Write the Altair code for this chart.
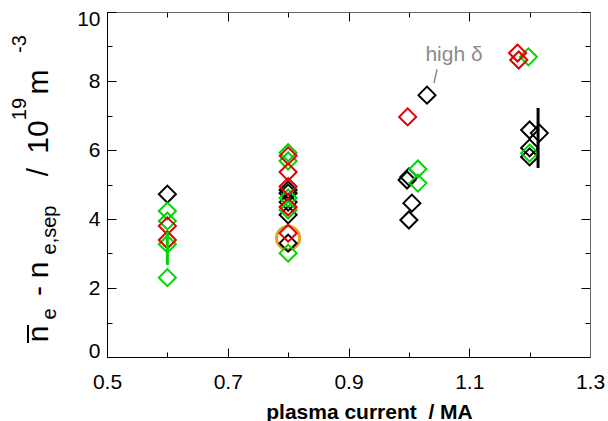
import altair as alt
import pandas as pd

FONT = "Liberation Sans"

# ---------------- data ----------------
black_x = [0.6, 0.8, 0.8, 0.8, 0.8, 0.8, 1.0, 0.997, 1.005, 1.0, 1.03, 1.2, 1.216, 1.2, 1.2]
black_y = [4.72, 4.84, 4.75, 4.49, 4.12, 3.30, 5.22, 5.13, 4.46, 3.97, 7.59, 6.58, 6.49, 6.06, 5.80]

green_x = [0.6, 0.6, 0.6, 0.6, 0.8, 0.8, 0.8, 0.8, 0.8, 1.015, 1.015, 1.198, 1.2]
green_y = [4.23, 3.94, 3.27, 2.30, 5.92, 5.68, 4.61, 4.26, 3.01, 5.45, 5.04, 8.70, 5.91]

red_x = [0.6, 0.6, 0.8, 0.8, 0.8, 0.8, 0.8, 0.998, 1.18, 1.182]
red_y = [3.80, 3.39, 5.83, 5.36, 4.94, 4.35, 3.59, 6.96, 8.81, 8.61]

orange_x = [0.8]
orange_y = [3.45]

err_x = [0.6, 1.214]
err_lo = [2.67, 5.48]
err_hi = [3.62, 7.22]
err_group = ["green", "black"]

high_delta_index = 10  # the black point labelled "high δ"
annot_label = "high δ"

x_ticks = [0.5, 0.6, 0.7, 0.8, 0.9, 1.0, 1.1, 1.2, 1.3]
x_labels = [0.5, 0.7, 0.9, 1.1, 1.3]
y_ticks = [0, 1, 2, 3, 4, 5, 6, 7, 8, 9, 10]
y_labels = [0, 2, 4, 6, 8, 10]

groups = ["black", "green", "red"]
colors = ["#000000", "#00d400", "#e00000"]

# ---------------- tables ----------------
pts = pd.concat([
    pd.DataFrame({"x": black_x, "y": black_y, "g": "black"}),
    pd.DataFrame({"x": green_x, "y": green_y, "g": "green"}),
    pd.DataFrame({"x": red_x, "y": red_y, "g": "red"}),
], ignore_index=True)
orange = pd.DataFrame({"x": orange_x, "y": orange_y})
errs = pd.DataFrame({"x": err_x, "lo": err_lo, "hi": err_hi, "g": err_group})
annot = pd.DataFrame({"x": [black_x[high_delta_index]], "y": [black_y[high_delta_index]],
                      "label": [annot_label]})

W, H = 483, 345
xs = alt.Scale(domain=[0.5, 1.3], nice=False, zero=False)
ys = alt.Scale(domain=[0, 10], nice=False, zero=False)
cs = alt.Scale(domain=groups, range=colors)

x_major = {"condition": {"test": "abs(round(datum.value*10)) % 2 == 1", "value": 9}, "value": 5}
y_major = {"condition": {"test": "round(datum.value) % 2 == 0", "value": 9}, "value": 5}

# label axes (left / bottom)
x_lab_axis = alt.Axis(orient="bottom", values=x_labels, format=".1f", ticks=False, grid=False,
                      domainColor="#000000", domainWidth=1, labelFont=FONT, labelFontSize=21,
                      labelColor="#000000", labelPadding=14, labelFlush=False,
                      title="plasma current\u00a0 / MA", titleFont=FONT, titleFontSize=21,
                      titleFontWeight="bold", titleColor="#000000", titleX=262, titleY=61,
                      titleAlign="center", titleBaseline="alphabetic", titleAnchor="start")
y_lab_axis = alt.Axis(orient="left", values=y_labels, format="d", ticks=False, grid=False,
                      domainColor="#000000", domainWidth=1, labelFont=FONT, labelFontSize=21,
                      labelColor="#000000", labelPadding=7, labelFlush=True, labelFlushOffset=4,
                      title=None)

# inward ticks at bottom / left (axes flipped onto the opposite side)
x_tick_bottom = alt.Axis(orient="top", offset=-H, values=x_ticks, labels=False, domain=False,
                         grid=False, tickSize=x_major, tickColor="#000000", tickWidth=1, title=None)
y_tick_left = alt.Axis(orient="right", offset=-W, values=y_ticks, labels=False, domain=False,
                       grid=False, tickSize=y_major, tickColor="#000000", tickWidth=1, title=None)
# inward ticks at top / right
x_tick_top = alt.Axis(orient="bottom", offset=-H, values=x_ticks, labels=False, domain=True,
                      domainColor="#666666", grid=False, tickSize=x_major, tickColor="#000000",
                      tickWidth=1, title=None)
y_tick_right = alt.Axis(orient="left", offset=-W, values=y_ticks, labels=False, domain=True,
                        domainColor="#666666", grid=False, tickSize=y_major, tickColor="#000000",
                        tickWidth=1, title=None)

circle = alt.Chart(orange).mark_point(shape="circle", filled=False, size=540, strokeWidth=3,
                                      color="#e3a225", opacity=1).encode(
    x=alt.X("x:Q", scale=xs, axis=x_tick_top),
    y=alt.Y("y:Q", scale=ys, axis=y_tick_right),
)

points = alt.Chart(pts).mark_point(shape="diamond", filled=False, size=290, strokeWidth=2,
                                   opacity=1).encode(
    x=alt.X("x:Q", scale=xs, axis=x_lab_axis),
    y=alt.Y("y:Q", scale=ys, axis=y_lab_axis),
    color=alt.Color("g:N", scale=cs, legend=None),
)

bars = alt.Chart(errs).mark_rule(strokeWidth=3).encode(
    x=alt.X("x:Q", scale=xs, axis=x_tick_bottom),
    y=alt.Y("lo:Q", scale=ys, axis=y_tick_left),
    y2="hi:Q",
    color=alt.Color("g:N", scale=cs, legend=None),
)

leader = alt.Chart(annot).transform_calculate(
    x1="datum.x + 0.0116", y1="datum.y + 0.35", x2="datum.x + 0.0166", y2="datum.y + 0.75"
).mark_rule(color="#8c8c8c", strokeWidth=1.5).encode(
    x=alt.X("x1:Q", scale=xs, axis=None),
    y=alt.Y("y1:Q", scale=ys, axis=None),
    x2="x2:Q",
    y2="y2:Q",
)

label = alt.Chart(annot).mark_text(font=FONT, fontSize=21, color="#8c8c8c", dx=27, dy=-40,
                                   align="center", baseline="middle").encode(
    x=alt.X("x:Q", scale=xs, axis=None),
    y=alt.Y("y:Q", scale=ys, axis=None),
    text="label:N",
)

# ---------------- rotated y-axis title built from pieces ----------------
one = alt.Data(values=[{}])


def piece(txt, x, y, size):
    return alt.Chart(one).mark_text(text=txt, font=FONT, fontSize=size, angle=270, align="center",
                                    baseline="alphabetic", color="#000000").encode(
        x=alt.value(x), y=alt.value(y))


MAIN, SMALL = 30, 20
title_pieces = [
    piece("n", -59, 322, MAIN),
    piece("e", -51, 302, SMALL),
    piece("-", -59, 279, MAIN),
    piece("n", -59, 258, MAIN),
    piece("e,sep", -51, 218, SMALL),
    piece("/", -59, 160, MAIN),
    piece("10", -59, 125, MAIN),
    piece("19", -81, 97, SMALL),
    piece("m", -59, 70, MAIN),
    piece("-3", -81, 32, SMALL),
]
nbar = alt.Chart(one).mark_rule(color="#000000", strokeWidth=2).encode(
    x=alt.value(-79), y=alt.value(313), y2=alt.value(331))

chart = alt.layer(circle, points, bars, leader, label, nbar, *title_pieces).resolve_axis(
    x="independent", y="independent"
).properties(
    width=W, height=H,
    autosize=alt.AutoSizeParams(type="none"),
    padding={"left": 107, "top": 12, "right": 18, "bottom": 64},
).configure_view(stroke=None).configure(background="white")

chart.save("out.html", embed_options={"renderer": "svg", "actions": False})
